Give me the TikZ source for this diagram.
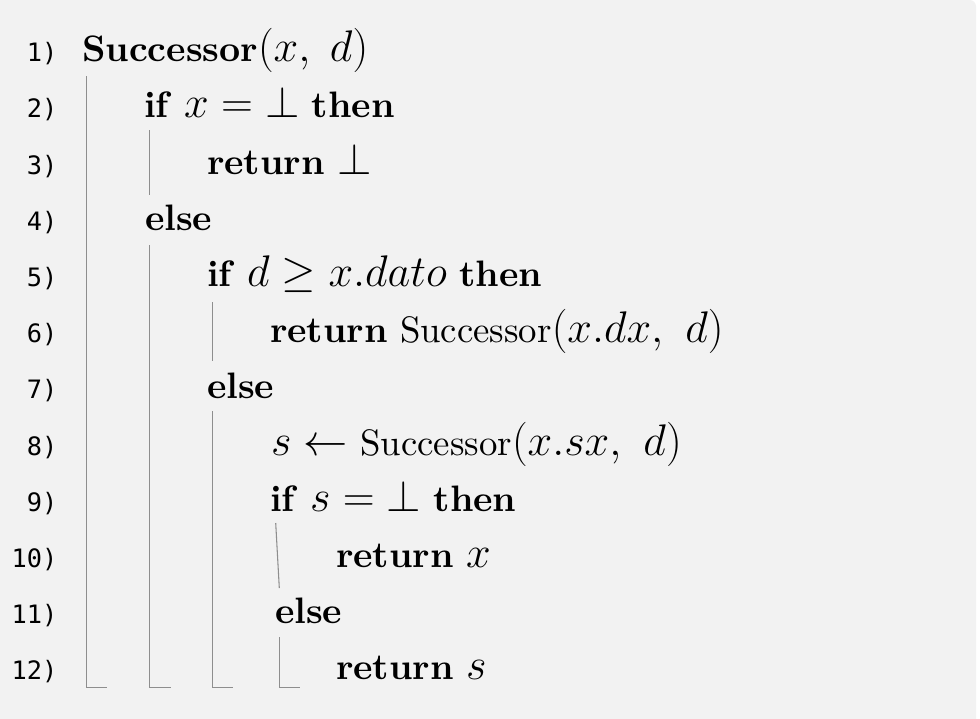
\RequirePackage{fix-cm}
\documentclass[tikz,border=0pt]{standalone}
\usepackage{fontspec}
\setmainfont{lmroman10}[Extension=.otf,UprightFont=*-regular,BoldFont=*-bold,ItalicFont=*-italic,BoldItalicFont=*-bolditalic]
\newfontfamily\lnfont{DejaVu Sans Mono}
\newcommand\mth[1]{{\fontsize{33.2}{40}\selectfont$#1$}}
\definecolor{bgc}{HTML}{F2F2F2}
\definecolor{guide}{HTML}{8E8E8E}
\begin{document}
\begin{tikzpicture}[x=0.75pt,y=-0.75pt,
  codetext/.style={anchor=base west,inner sep=0pt,outer sep=0pt,font=\fontsize{27.6}{33}\selectfont},
  lnum/.style={anchor=base east,inner sep=0pt,outer sep=0pt,font=\lnfont\fontsize{19}{24}\selectfont},
  guideline/.style={draw=guide,line width=0.8pt}]
\useasboundingbox (0,0) rectangle (980,718);
\fill[white] (0,0) rectangle (980,718);
\fill[bgc,rounded corners=4.8pt] (-30,0) rectangle (976,760);
% line numbers
\foreach \i in {1,...,12}{
  \node[lnum] (n\i) at (57.5,{61.7+56.2*(\i-1)}) {\i)};
}
% code lines
\node[codetext] (c1)  at (82, 61.7)  {\textbf{Successor}\mth{(x,\;d)}};
\node[codetext] (c2)  at (144,117.9) {\textbf{if} \mth{x=\bot} \textbf{then}};
\node[codetext] (c3)  at (207,174.1) {\textbf{return} \mth{\bot}};
\node[codetext] (c4)  at (145,230.3) {\textbf{else}};
\node[codetext] (c5)  at (207,286.5) {\textbf{if} \mth{d\geq x.dato} \textbf{then}};
\node[codetext] (c6)  at (270,342.7) {\textbf{return} Successor\mth{(x.dx,\ d)}};
\node[codetext] (c7)  at (207,398.9) {\textbf{else}};
\node[codetext] (c8)  at (271,455.1) {\mth{s\leftarrow} Successor\mth{(x.sx,\ d)}};
\node[codetext] (c9)  at (270,511.3) {\textbf{if} \mth{s=\bot} \textbf{then}};
\node[codetext] (c10) at (336,567.5) {\textbf{return} \mth{x}};
\node[codetext] (c11) at (275,623.7) {\textbf{else}};
\node[codetext] (c12) at (336,679.9) {\textbf{return} \mth{s}};
% guide lines
\coordinate (g0a) at (86.7,76);   \coordinate (g0b) at (86.7,687.3);  \coordinate (g0c) at (107.3,687.3);
\coordinate (g1a) at (149.3,130); \coordinate (g1b) at (149.3,195);
\coordinate (g1c) at (149.3,245); \coordinate (g1d) at (149.3,687.3); \coordinate (g1e) at (170.7,687.3);
\coordinate (g2a) at (212.7,302); \coordinate (g2b) at (212.7,361);
\coordinate (g2c) at (212.7,411); \coordinate (g2d) at (212.7,687.3); \coordinate (g2e) at (233.3,687.3);
\coordinate (g3a) at (275.7,523); \coordinate (g3b) at (279.3,588);
\coordinate (g3c) at (279.3,637); \coordinate (g3d) at (279.3,687.3); \coordinate (g3e) at (300,687.3);
\draw[guideline] (g0a) -- (g0b) -- (g0c);
\draw[guideline] (g1a) -- (g1b);
\draw[guideline] (g1c) -- (g1d) -- (g1e);
\draw[guideline] (g2a) -- (g2b);
\draw[guideline] (g2c) -- (g2d) -- (g2e);
\draw[guideline] (g3a) -- (g3b);
\draw[guideline] (g3c) -- (g3d) -- (g3e);
\end{tikzpicture}
\end{document}
